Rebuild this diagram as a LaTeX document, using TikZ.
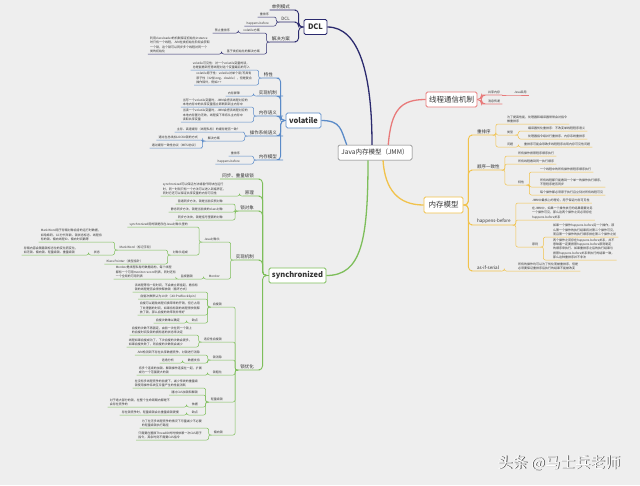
\documentclass[tikz,border=0pt]{standalone}
\usepackage{fontspec}
\setmainfont{Noto Sans CJK SC}
\definecolor{bgc}{HTML}{EEEEEE}
\definecolor{txtc}{HTML}{333333}
\definecolor{navyc}{HTML}{2B2A6E}
\definecolor{bluec}{HTML}{5B8BC8}
\definecolor{greenc}{HTML}{7DBE5A}
\definecolor{redc}{HTML}{E87A7A}
\definecolor{orangec}{HTML}{F1C24B}
\begin{document}
\begin{tikzpicture}[x=1pt,y=-1pt,
    trunk/.style={draw=#1,line width=1.3pt},
    limb/.style={draw=#1,line width=0.9pt,rounded corners=4pt},
    twig/.style={draw=#1,line width=0.5pt,rounded corners=2pt},
    root/.style={draw=black!55,fill=white,rounded corners=1.5pt,line width=0.5pt,
        minimum width=74pt,minimum height=15pt,inner sep=2pt,text=txtc,
        font=\fontsize{6.5}{8}\selectfont},
    topic/.style={draw=#1,fill=white,line width=0.8pt,rounded corners=1.5pt,
        inner xsep=3pt,inner ysep=0pt,minimum height=15pt,text=txtc,
        font=\bfseries\fontsize{7.5}{9}\selectfont},
    lab/.style={text=txtc,inner xsep=2pt,inner ysep=1pt,font=\fontsize{4.5}{5.4}\selectfont},
    tag/.style={text=txtc,inner xsep=2pt,inner ysep=0.8pt,font=\fontsize{3}{4.4}\selectfont},
    note/.style={tag,align=left},
    lnode/.style={anchor=south east},
    rnode/.style={anchor=south west}]

\fill[bgc] (0,0) rectangle (640,485);
\useasboundingbox (0,0) rectangle (640,485);

% centre and main branches
\node[root] (C) at (375,152.5) {Java内存模型（JMM）};
\node[topic=navyc,minimum width=23pt] (dcl) at (315.5,27) {DCL};
\node[topic=bluec] (vol) at (303.5,120.5) {volatile};
\node[topic=greenc] (sync) at (297.5,275.5) {synchronized};
\node[topic=redc,font=\fontsize{7.5}{9}\selectfont] (comm) at (451.5,99.5) {线程通信机制};
\node[topic=orangec,minimum width=39pt,minimum height=16pt,font=\fontsize{7.5}{9}\selectfont] (mem) at (443.5,205) {内存模型};

\draw[trunk=navyc] (dcl.east) .. controls +(32,0) and +(0,-70) .. ([xshift=-3pt]C.north);
\draw[trunk=bluec] (vol.east) .. controls +(20,0) and +(-6,-15) .. ([xshift=9pt]C.north west);
\draw[trunk=redc] ([xshift=-24pt]C.north east) .. controls +(3,-35) and +(-25,0) .. (comm.west);
\draw[trunk=greenc] ([xshift=-7pt]C.south) .. controls +(0,80) and +(35,0) .. (sync.east);
\draw[trunk=orangec] ([xshift=8pt]C.south) .. controls +(2,30) and +(-25,0) .. (mem.west);

% DCL
\node[lab,lnode] (d1) at (292,10) {单例模式};
\node[lab,lnode] (d2) at (292,22) {DCL};
\node[lab,lnode] (d3) at (292,42) {解决方案};
\node[tag,lnode] (d21) at (271,17) {重排序};
\node[tag,lnode] (d22) at (271,26) {happens-before};
\node[tag,lnode] (d31) at (262,33) {volatile方案};
\node[tag,lnode] (d311) at (232,33) {禁止重排序};
\node[tag,lnode] (d32) at (262,54) {基于类初始化的解决方案};
\node[note,lnode] (d321) at (212,54) {利用classloader的机制保证初始化instance\\时只有一个线程，JVM在类初始化阶段会获取\\一个锁，这个锁可以同步多个线程对同一个\\类的初始化};
\foreach \c in {d1,d2,d3}
  \draw[limb=navyc] (dcl.west) -- ++(-5,0) |- (\c.south east) -- (\c.south west);
\foreach \p/\c in {d2/d21,d2/d22,d3/d31,d3/d32,d31/d311,d32/d321}
  \draw[twig=navyc] (\p.south west) -- ++(-3,0) |- (\c.south east) -- (\c.south west);

% volatile
\node[lab,lnode] (v1) at (275,78) {特性};
\node[lab,lnode] (v2) at (279,96) {实现机制};
\node[lab,lnode] (v3) at (279,116) {内存语义};
\node[lab,lnode] (v4) at (279,136) {操作系统语义};
\node[lab,lnode] (v5) at (279,160) {内存模型};
\node[note,lnode] (v11) at (252,70) {volatile可见性：对一个volatile变量的读，\\总是能看到任意线程对这个变量最后的写入};
\node[note,lnode] (v12) at (254,85) {volatile原子性：volatile对单个读/写具有\\原子性（32位long、double），但是复合\\操作除外，例如i++};
\node[tag,lnode] (v21) at (242,96) {内存屏障};
\node[note,lnode] (v31) at (250,107) {当写一个volatile变量时，JMM会把该线程对应的\\本地内存中的共享变量值立即刷新到主内存中};
\node[note,lnode] (v32) at (250,122) {当读一个volatile变量时，JMM会把该线程对应的\\本地内存置为无效，线程接下来将从主内存中\\读取共享变量};
\node[tag,lnode] (v41) at (242,132) {主存、高速缓存（线程私有）的缓存是否一致？};
\node[tag,lnode] (v42) at (222,141) {解决方案};
\node[tag,lnode] (v421) at (200,140) {通过在总线加LOCK\#锁的方式};
\node[tag,lnode] (v422) at (200,148) {通过缓存一致性协议（MESI协议）};
\node[tag,lnode] (v51) at (242,156) {重排序};
\node[tag,lnode] (v52) at (242,164) {happens-before};
\foreach \c in {v1,v2,v3,v4,v5}
  \draw[limb=bluec] (vol.west) -- ++(-5,0) |- (\c.south east) -- (\c.south west);
\foreach \p/\c in {v1/v11,v1/v12,v2/v21,v3/v31,v3/v32,v4/v41,v4/v42,v42/v421,v42/v422,v5/v51,v5/v52}
  \draw[twig=bluec] (\p.south west) -- ++(-3,0) |- (\c.south east) -- (\c.south west);

% synchronized
\node[lab,lnode] (s1) at (256,179) {同步、重量级锁};
\node[lab,lnode] (s2) at (256,196) {原理};
\node[lab,lnode] (s3) at (256,211) {锁对象};
\node[lab,lnode] (s4) at (256,260) {实现机制};
\node[lab,lnode] (s5) at (256,370) {锁优化};
\node[note,lnode] (s21) at (228,196) {synchronized可以保证方法或者代码块在运行\\时，同一时刻只有一个方法可以进入到临界区，\\同时它还可以保证共享变量的内存可见性};
\node[tag,lnode] (s31) at (225,204) {普通同步方法，锁是当前实例对象};
\node[tag,lnode] (s32) at (225,212) {静态同步方法，锁是当前类的class对象};
\node[tag,lnode] (s33) at (225,220) {同步方法块，锁是括号里面的对象};
\node[tag,lnode] (s41) at (222,242) {Java对象头};
\node[tag,lnode] (s411) at (190,227) {synchronized用的锁是存在Java对象头里的};
\node[tag,lnode] (s412) at (190,255) {对象头组成};
\node[tag,lnode] (s4121) at (155,250) {Mark Word（标记字段）};
\node[tag,lnode] (s4122) at (145,264) {Klass Pointer（类型指针）};
\node[note,lnode] (s41211) at (104,242) {Mark Word用于存储对象自身的运行时数据，\\如哈希码、GC分代年龄、锁状态标志、线程持\\有的锁、偏向线程ID、偏向时间戳等};
\node[tag,lnode] (s41212) at (102,255) {状态};
\node[note,lnode] (s412121) at (80,255) {存储内容会随着锁标志位的变化而变化，\\如无锁、偏向锁、轻量级锁、重量级锁};
\node[tag,lnode] (s42) at (222,279) {Monitor};
\node[tag,lnode] (s421) at (195,279) {监视器锁};
\node[note,lnode] (s4211) at (178,279) {Monitor是线程私有的数据结构，每个线程\\都有一个可用monitor record列表，同时还有\\一个全局的可用列表};
\node[tag,lnode] (s51) at (224,307) {自旋锁};
\node[tag,lnode] (s52) at (224,342) {适应性自旋锁};
\node[tag,lnode] (s53) at (224,360) {锁消除};
\node[tag,lnode] (s54) at (224,375) {锁粗化};
\node[tag,lnode] (s55) at (225,402) {轻量级锁};
\node[tag,lnode] (s56) at (225,435) {偏向锁};
\node[note,lnode] (s511) at (200,292) {该线程等待一段时间，不会被立即挂起，看持有\\锁的线程是否会很快释放锁（循环方式）};
\node[tag,lnode] (s512) at (200,299) {自旋次数默认为10次（-XX:PreBlockSpin）};
\node[note,lnode] (s513) at (202,315) {自旋可以避免线程切换带来的开销，但它占用\\了处理器的时间，如果持有锁的线程很快就释\\放了锁，那么自旋的效率就非常好};
\node[tag,lnode] (s514) at (200,323) {缺点};
\node[tag,lnode] (s5141) at (182,323) {自旋次数难以确定};
\node[note,lnode] (s521) at (194,335) {自旋的次数不再固定，由前一次在同一个锁上\\的自旋时间及锁的拥有者的状态来决定};
\node[note,lnode] (s522) at (194,347) {线程如果自旋成功了，下次自旋的次数会更多，\\如果自旋失败了，则自旋的次数就会减少};
\node[tag,lnode] (s531) at (202,355) {JVM检测到不存在共享数据竞争，对锁进行消除};
\node[tag,lnode] (s532) at (202,363) {数据支持};
\node[tag,lnode] (s5321) at (176,363) {逃逸分析};
\node[note,lnode] (s541) at (204,375) {将多个连续的加锁、解锁操作连接在一起，扩展\\成为一个范围更大的锁};
\node[note,lnode] (s551) at (200,388) {在没有多线程竞争的前提下，减少传统的重量级\\锁使用操作系统互斥量产生的性能消耗};
\node[tag,lnode] (s552) at (200,395) {通过CAS加锁和解锁};
\node[tag,lnode] (s553) at (200,407) {依据};
\node[note,lnode] (s5531) at (172,407) {对于绝大部分的锁，在整个生命周期内都是不\\会存在竞争的};
\node[tag,lnode] (s554) at (200,415) {缺点};
\node[tag,lnode] (s5541) at (181,415) {存在锁竞争时，轻量级锁会比重量级锁更慢};
\node[note,lnode] (s561) at (204,428) {为了在无多线程竞争的情况下尽量减少不必要\\的轻量级锁执行路径};
\node[note,lnode] (s562) at (204,440) {只需要在置换ThreadID的时候依赖一次CAS原子\\指令，其余时刻不需要CAS指令};
\foreach \c in {s1,s2,s3,s4,s5}
  \draw[limb=greenc] (sync.west) -- ++(-6,0) |- (\c.south east) -- (\c.south west);
\foreach \p/\c in {s2/s21,s3/s31,s3/s32,s3/s33,s4/s41,s4/s42,s41/s411,s41/s412,s412/s4121,s412/s4122,
    s4121/s41211,s4121/s41212,s41212/s412121,s42/s421,s421/s4211,
    s5/s51,s5/s52,s5/s53,s5/s54,s5/s55,s5/s56,s51/s511,s51/s512,s51/s513,s51/s514,s514/s5141,
    s52/s521,s52/s522,s53/s531,s53/s532,s532/s5321,s54/s541,s55/s551,s55/s552,s55/s553,s55/s554,
    s553/s5531,s554/s5541,s56/s561,s56/s562}
  \draw[twig=greenc] (\p.south west) -- ++(-3,0) |- (\c.south east) -- (\c.south west);

% thread communication
\node[tag,rnode] (c1) at (486,95) {共享内存};
\node[tag,rnode] (c2) at (486,104) {消息传递};
\node[tag,rnode] (c11) at (512,95) {Java采用};
\foreach \c in {c1,c2}
  \draw[limb=redc] (comm.east) -- ++(4,0) |- (\c.south west) -- (\c.south east);
\draw[twig=redc] (c1.south east) -- (c11.south west) -- (c11.south east);

% memory model
\node[lab,rnode] (m1) at (475,135) {重排序};
\node[lab,rnode] (m2) at (475,170) {顺序一致性};
\node[lab,rnode] (m3) at (475,225) {happens-before};
\node[lab,rnode] (m4) at (475,271) {as-if-serial};
\node[note,rnode] (m11) at (505,124) {为了提高性能，处理器和编译器常常会对指令\\做重排序};
\node[tag,rnode] (m12) at (505,135) {类型};
\node[tag,rnode] (m121) at (526,131) {编译器优化重排序：不改变单线程程序语义};
\node[tag,rnode] (m122) at (526,139) {处理器指令级并行重排序、内存系统重排序};
\node[tag,rnode] (m13) at (505,147) {问题};
\node[tag,rnode] (m131) at (522,147) {重排序可能会导致多线程程序出现内存可见性问题};
\node[tag,rnode] (m21) at (516,156) {所有操作按照程序顺序执行};
\node[tag,rnode] (m22) at (516,164) {所有线程看到同一执行顺序};
\node[tag,rnode] (m23) at (516,185) {特性};
\node[tag,rnode] (m231) at (538,172) {一个线程中的所有操作按程序顺序执行};
\node[note,rnode] (m232) at (538,187) {所有线程都只能看到一个单一的操作执行顺序，\\不管程序是否同步};
\node[tag,rnode] (m233) at (538,195) {每个操作都必须原子执行且立刻对所有线程可见};
\node[tag,rnode] (m31) at (530,203) {JMM中最核心的理论，用于保证内存可见性};
\node[note,rnode] (m32) at (530,220) {在JMM中，如果一个操作执行的结果需要对另\\一个操作可见，那么这两个操作之间必须存在\\happens-before关系};
\node[tag,rnode] (m33) at (530,247) {原则};
\node[note,rnode] (m331) at (551,237) {如果一个操作happens-before另一个操作，那\\么第一个操作的执行结果将对第二个操作可见，\\而且第一个操作的执行顺序排在第二个操作之前};
\node[note,rnode] (m332) at (551,260) {两个操作之间存在happens-before关系，并不\\意味着一定要按照happens-before原则制定\\的顺序来执行。如果重排序之后的执行结果与\\按照happens-before关系来执行的结果一致，\\那么这种重排序并不非法};
\node[note,rnode] (m41) at (516,271) {所有的操作均可以为了优化而被重排序，但是\\必须要保证重排序后执行的结果不能被改变};
\foreach \c in {m1,m2,m3,m4}
  \draw[limb=orangec] (mem.east) -- ++(5,0) |- (\c.south west) -- (\c.south east);
\foreach \p/\c in {m1/m11,m1/m12,m1/m13,m12/m121,m12/m122,m13/m131,m2/m21,m2/m22,m2/m23,
    m23/m231,m23/m232,m23/m233,m3/m31,m3/m32,m3/m33,m33/m331,m33/m332,m4/m41}
  \draw[twig=orangec] (\p.south east) -- ++(3,0) |- (\c.south west) -- (\c.south east);

% watermark
\node[text=black!75,font=\fontsize{15}{18}\selectfont] (wms) at (559.8,463.8) {头条 @马士兵老师};
\node[text=white,font=\fontsize{15}{18}\selectfont] (wm) at (559,463) {头条 @马士兵老师};
\end{tikzpicture}
\end{document}
